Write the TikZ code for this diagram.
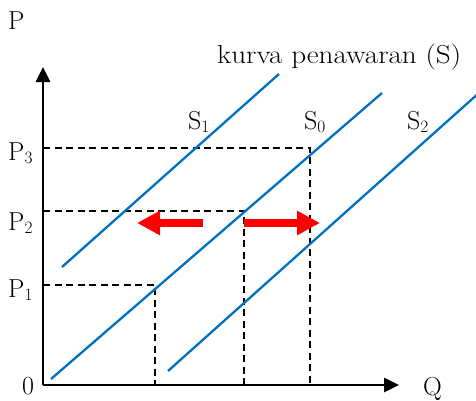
\documentclass[tikz,border=0pt]{standalone}
\usetikzlibrary{arrows.meta}
\definecolor{curveblue}{RGB}{0,112,192}

\tikzset{
  curve/.style={draw=curveblue, line width=2.3pt},
  guide/.style={draw=black, line width=1.8pt, dash pattern=on 7pt off 4.5pt},
  axis/.style={line width=2.6pt, -{Triangle[length=15pt,width=14pt]}},
  shift arrow/.style={draw=red, line width=8pt, -{Triangle[length=23pt,width=23pt]}},
  lbl/.style={anchor=base west, inner sep=0pt, font=\fontsize{26}{28}\selectfont}
}

\begin{document}
\begin{tikzpicture}[x=1pt, y=-1pt]
  \useasboundingbox (0,0) rectangle (476,400);

  % axes
  \coordinate (O) at (43,385);
  \coordinate (Ptop) at (43,67);
  \coordinate (Qend) at (399,385);
  \draw[axis] (O) -- (Ptop);
  \draw[axis] (O) -- (Qend);

  \node[lbl] (P) at (8,29) {P};
  \node[lbl] (Q) at (423,395) {Q};
  \node[lbl] (zero) at (22,394) {0};

  % price levels
  \coordinate (y3) at (43,148);
  \coordinate (y2) at (43,211);
  \coordinate (y1) at (43,285);
  \coordinate (e3) at (310,148);
  \coordinate (e2) at (244,211);
  \coordinate (e1) at (155,285);
  \coordinate (x3) at (310,385);
  \coordinate (x2) at (244,385);
  \coordinate (x1) at (155,385);

  \draw[guide] (y3) -- (e3) -- (x3);
  \draw[guide] (y2) -- (e2) -- (x2);
  \draw[guide] (y1) -- (e1) -- (x1);

  \node[lbl] (P3) at (8,160) {P$_3$};
  \node[lbl] (P2) at (8,230) {P$_2$};
  \node[lbl] (P1) at (8,297) {P$_1$};

  % supply curves
  \coordinate (s1a) at (62,267);
  \coordinate (s1b) at (279,74);
  \coordinate (s0a) at (51,379);
  \coordinate (s0b) at (382,93);
  \coordinate (s2a) at (168,371);
  \coordinate (s2b) at (480,92);
  \draw[curve] (s1a) -- (s1b);
  \draw[curve] (s0a) -- (s0b);
  \draw[curve] (s2a) -- (s2b);

  \node[lbl] (S1) at (188,129) {S$_1$};
  \node[lbl] (S0) at (304,129) {S$_0$};
  \node[lbl] (S2) at (407,129) {S$_2$};
  \node[lbl] (title) at (217,63) {\scalebox{1.12}[1]{kurva penawaran (S)}};

  % shifts
  \coordinate (la) at (203,223);
  \coordinate (lb) at (137,223);
  \coordinate (ra) at (244,223);
  \coordinate (rb) at (320,223);
  \draw[shift arrow] (la) -- (lb);
  \draw[shift arrow] (ra) -- (rb);
\end{tikzpicture}
\end{document}
